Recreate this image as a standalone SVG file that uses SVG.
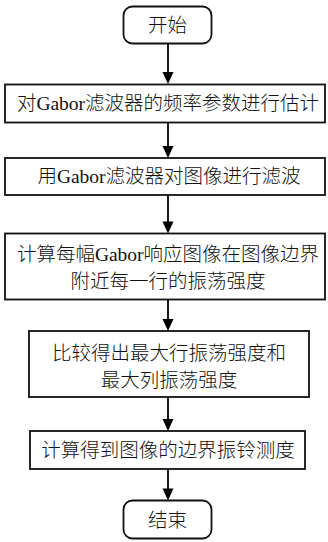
<svg xmlns="http://www.w3.org/2000/svg" width="328" height="542" viewBox="0 0 328 542">
<defs>
<style>
.b{fill:#fff;stroke:#111;stroke-width:1.8}
.t{font-family:"Liberation Serif","Noto Sans CJK SC",serif;font-size:19.5px;font-weight:300;fill:#111;text-anchor:middle}
.c{stroke:#000;stroke-width:1.8;fill:none}
.h{fill:#000}
</style>
</defs>
<g id="start"><rect class="b" x="123.5" y="6.5" width="88" height="37" rx="9"/><text class="t" x="167.5" y="32">开始</text></g>
<g id="n1"><rect class="b" x="5" y="84.5" width="320" height="38"/><text class="t" x="168" y="110">对Gabor滤波器的频率参数进行估计</text></g>
<g id="n2"><rect class="b" x="5" y="158" width="320" height="37"/><text class="t" x="169" y="183">用Gabor滤波器对图像进行滤波</text></g>
<g id="n3"><rect class="b" x="5" y="233.5" width="320" height="66"/><text class="t" x="168" y="261">计算每幅Gabor响应图像在图像边界</text><text class="t" x="168" y="288">附近每一行的振荡强度</text></g>
<g id="n4"><rect class="b" x="29" y="331" width="280" height="66"/><text class="t" x="169" y="360">比较得出最大行振荡强度和</text><text class="t" x="169" y="387">最大列振荡强度</text></g>
<g id="n5"><rect class="b" x="30" y="431" width="275" height="38"/><text class="t" x="168" y="457">计算得到图像的边界振铃测度</text></g>
<g id="end"><rect class="b" x="123.5" y="500.5" width="88" height="38" rx="9"/><text class="t" x="167.5" y="527">结束</text></g>
<g id="connectors">
<line class="c" x1="168" y1="43.5" x2="168" y2="74"/><path class="h" d="M162.5,72 L173.5,72 L168,84 Z"/>
<line class="c" x1="168" y1="122.5" x2="168" y2="148"/><path class="h" d="M162.5,146 L173.5,146 L168,158 Z"/>
<line class="c" x1="168" y1="195" x2="168" y2="223"/><path class="h" d="M162.5,221.5 L173.5,221.5 L168,233.5 Z"/>
<line class="c" x1="168" y1="299.5" x2="168" y2="321"/><path class="h" d="M162.5,319 L173.5,319 L168,331 Z"/>
<line class="c" x1="168" y1="397" x2="168" y2="421"/><path class="h" d="M162.5,419 L173.5,419 L168,431 Z"/>
<line class="c" x1="168" y1="469" x2="168" y2="490"/><path class="h" d="M162.5,488.5 L173.5,488.5 L168,500.5 Z"/>
</g>
</svg>
